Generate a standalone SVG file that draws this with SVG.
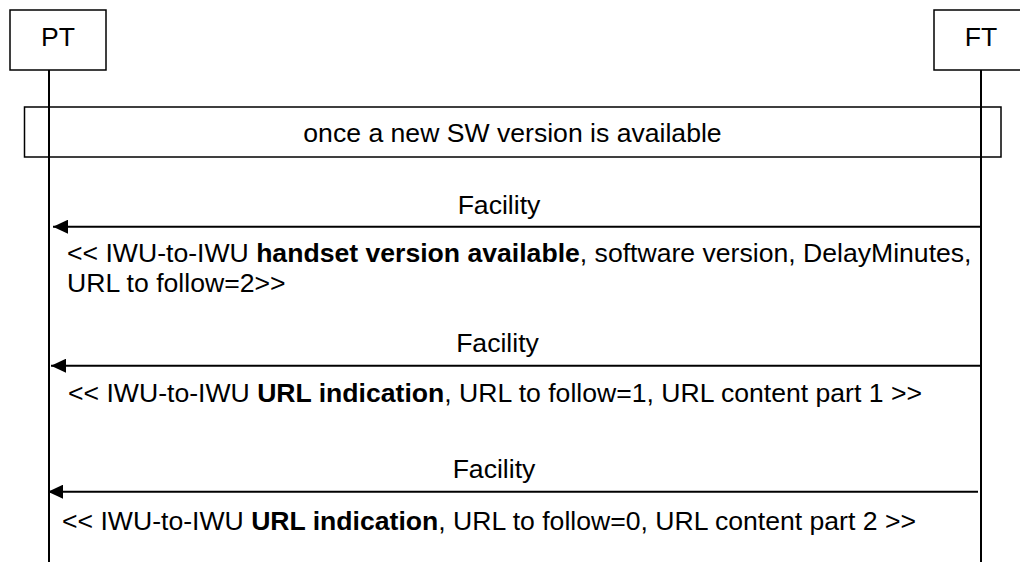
<svg xmlns="http://www.w3.org/2000/svg" width="1020" height="562" viewBox="0 0 1020 562">
<style>
text{font-family:"Liberation Sans",Arial,sans-serif;font-size:26.6px;fill:#000}
.c{text-anchor:middle}
.b{font-weight:bold}
.box{fill:#fff;stroke:#000;stroke-width:1.5}
.life{stroke:#000;stroke-width:2;fill:none}
.msg{stroke:#000;stroke-width:2;fill:none}
</style>
<defs>
<marker id="ah" markerWidth="15" markerHeight="14" refX="15" refY="7" orient="auto" markerUnits="userSpaceOnUse">
<path d="M15,7 L0,0 L0,14 Z" fill="#000"/>
</marker>
</defs>
<rect width="1020" height="562" fill="#fff"/>
<g id="PT">
<rect class="box" x="10" y="10" width="96" height="60"/>
<text class="c" x="58" y="46">PT</text>
<line class="life" x1="49" y1="70" x2="49" y2="562"/>
</g>
<g id="FT">
<rect class="box" x="934" y="10" width="94" height="60"/>
<text class="c" x="981" y="46">FT</text>
<line class="life" x1="981" y1="70" x2="981" y2="562"/>
</g>
<g id="note">
<rect class="box" x="24.5" y="107" width="976.5" height="50" fill-opacity="0"/>
<text class="c" x="512.5" y="142">once a new SW version is available</text>
</g>
<g id="connectors">
<line class="msg" x1="982" y1="226.7" x2="53" y2="226.7" marker-end="url(#ah)"/>
<line class="msg" x1="980" y1="365.7" x2="51" y2="365.7" marker-end="url(#ah)"/>
<line class="msg" x1="978" y1="491.7" x2="48" y2="491.7" marker-end="url(#ah)"/>
</g>
<g id="labels">
<text class="c" x="499" y="214">Facility</text>
<text x="67" y="262">&lt;&lt; IWU-to-IWU <tspan class="b">handset version available</tspan>, software version, DelayMinutes,</text>
<text x="67" y="292">URL to follow=2&gt;&gt;</text>
<text class="c" x="497.5" y="352">Facility</text>
<text x="68" y="402">&lt;&lt; IWU-to-IWU <tspan class="b">URL indication</tspan>, URL to follow=1, URL content part 1 &gt;&gt;</text>
<text class="c" x="494" y="478">Facility</text>
<text x="62" y="530">&lt;&lt; IWU-to-IWU <tspan class="b">URL indication</tspan>, URL to follow=0, URL content part 2 &gt;&gt;</text>
</g>
</svg>
